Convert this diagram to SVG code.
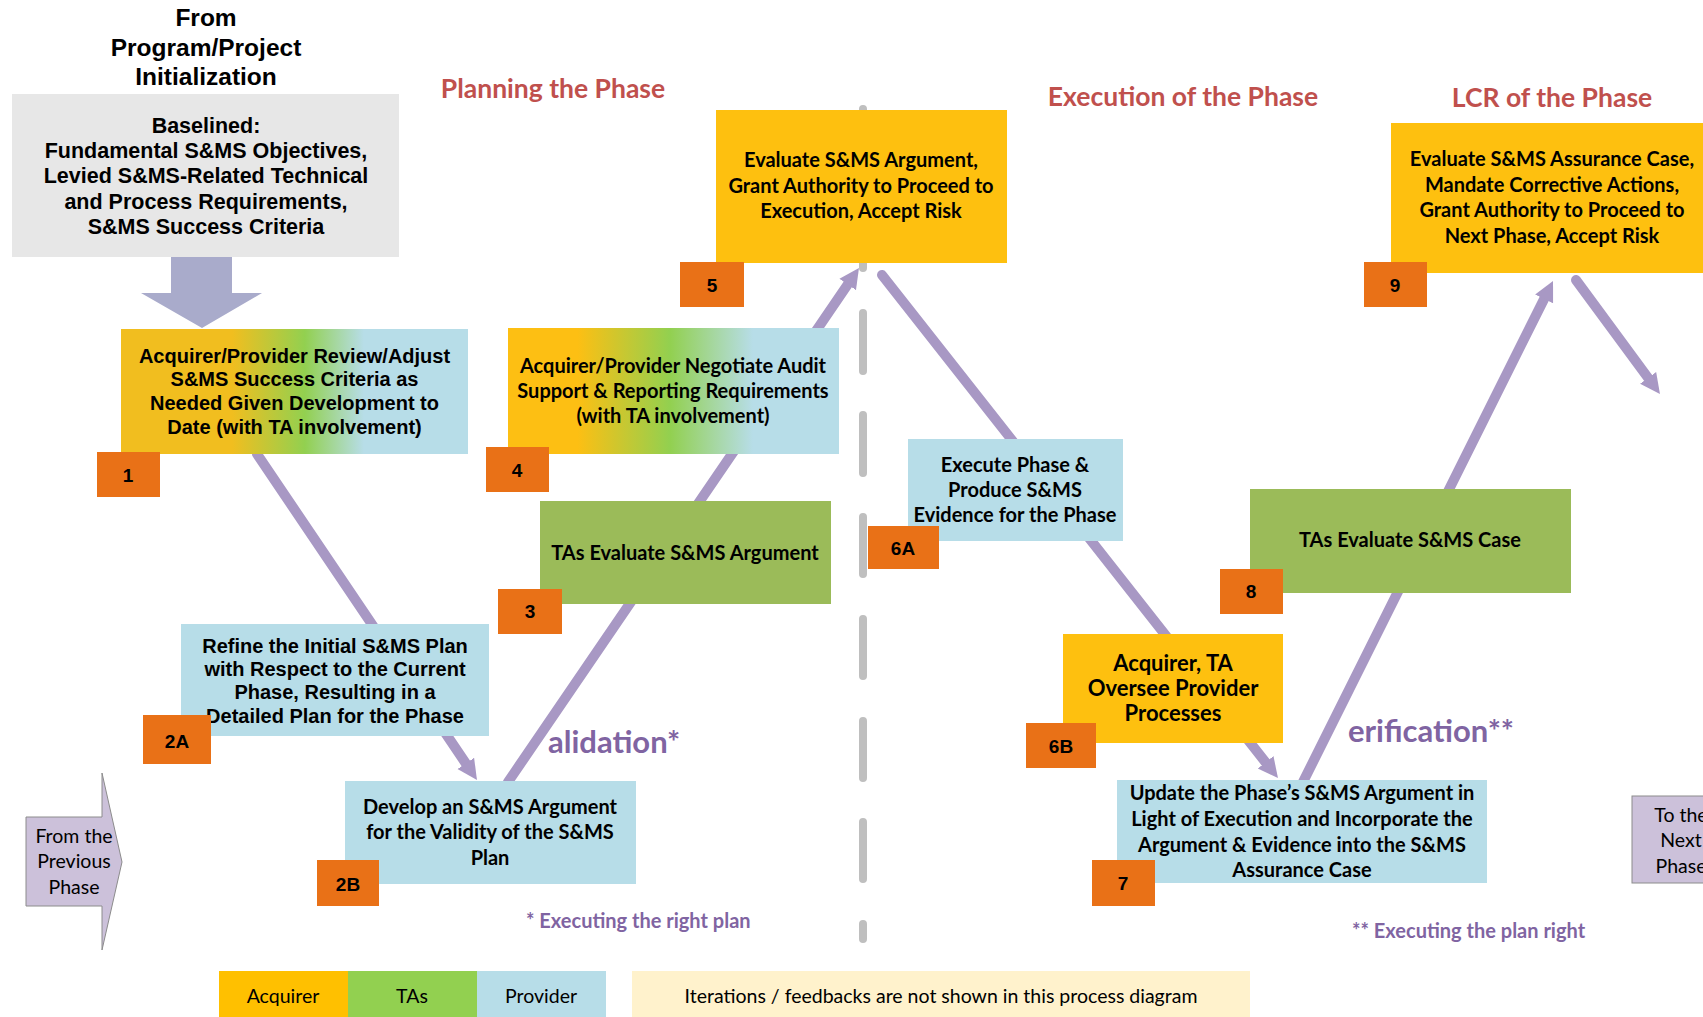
<svg xmlns="http://www.w3.org/2000/svg" width="1703" height="1017" viewBox="0 0 1703 1017">
<defs>
<style>
.ab{font-family:"Liberation Sans",Arial,sans-serif;font-weight:bold;fill:#000}
.cb{font-family:Lato,"Open Sans",sans-serif;font-weight:bold;fill:#000}
.cr{font-family:Lato,"Open Sans",sans-serif;fill:#000}
.mid{text-anchor:middle}
.lbl{fill:#e97117}
.prov{fill:#b7dde8}
.acq{fill:#fec00f}
.tas{fill:#9bbb59}
.phase{font-family:Lato,"Open Sans",sans-serif;font-weight:bold;fill:#c0504d;font-size:26.5px}
.purp{font-family:Lato,"Open Sans",sans-serif;font-weight:bold;fill:#8064a2}
.conn{stroke:#a898c4;stroke-width:10;fill:none;stroke-linecap:round}
</style>
<linearGradient id="g1" x1="0" y1="0" x2="1" y2="0">
<stop offset="0" stop-color="#f1be1f"/><stop offset="0.32" stop-color="#f1be1f"/><stop offset="0.53" stop-color="#92d050"/><stop offset="0.70" stop-color="#b7dde8"/><stop offset="1" stop-color="#b7dde8"/>
</linearGradient>
<linearGradient id="g4" x1="0" y1="0" x2="1" y2="0">
<stop offset="0" stop-color="#fdbf13"/><stop offset="0.21" stop-color="#fdbf13"/><stop offset="0.49" stop-color="#92d050"/><stop offset="0.74" stop-color="#b7dde8"/><stop offset="1" stop-color="#b7dde8"/>
</linearGradient>
<marker id="ah" viewBox="0 0 10 10" refX="0" refY="5" markerWidth="2" markerHeight="2.4" markerUnits="strokeWidth" orient="auto">
<path d="M0,0 L10,5 L0,10 z" fill="#a898c4"/>
</marker>
</defs>
<rect x="0" y="0" width="1703" height="1017" fill="#fff"/>

<g id="divider">
<path d="M863,109 L863,268 M863,313 L863,371 M863,415 L863,473 M863,517 L863,574 M863,619 L863,676 M863,721 L863,778 M863,822 L863,879 M863,924 L863,939" stroke="#bfbfbf" stroke-width="8" stroke-linecap="round" fill="none"/>
</g>

<g id="init-arrow">
<path d="M171,257 L232,257 L232,293 L262,293 L202,328 L141,293 L171,293 Z" fill="#a9abcb"/>
</g>

<g id="connectors">
<line class="conn" x1="257" y1="454" x2="465.8" y2="763.4" marker-end="url(#ah)"/>
<line class="conn" x1="508" y1="782" x2="847.7" y2="284.5" marker-end="url(#ah)"/>
<line class="conn" x1="882" y1="275" x2="1265.6" y2="762.3" marker-end="url(#ah)"/>
<line class="conn" x1="1303" y1="782" x2="1544.1" y2="298.9" marker-end="url(#ah)"/>
<line class="conn" x1="1576" y1="280" x2="1648.1" y2="377.9" marker-end="url(#ah)"/>
</g>

<g id="title">
<text class="ab mid" font-size="24.5" x="206" y="26">From</text>
<text class="ab mid" font-size="24.5" x="206" y="56">Program/Project</text>
<text class="ab mid" font-size="24.5" x="206" y="85">Initialization</text>
</g>

<g id="baselined">
<rect x="12" y="94" width="387" height="163" fill="#e7e7e7"/>
<g class="ab mid" font-size="21.5">
<text x="206" y="133">Baselined:</text>
<text x="206" y="158">Fundamental S&amp;MS Objectives,</text>
<text x="206" y="183">Levied S&amp;MS-Related Technical</text>
<text x="206" y="209">and Process Requirements,</text>
<text x="206" y="234">S&amp;MS Success Criteria</text>
</g>
</g>

<g id="phase-titles">
<text class="phase mid" x="553" y="98">Planning the Phase</text>
<text class="phase mid" x="1183" y="106">Execution of the Phase</text>
<text class="phase mid" x="1552" y="107">LCR of the Phase</text>
</g>

<g id="node1">
<rect x="121" y="329" width="347" height="125" fill="url(#g1)"/>
<g class="ab mid" font-size="20">
<text x="294.5" y="363">Acquirer/Provider Review/Adjust</text>
<text x="294.5" y="386">S&amp;MS Success Criteria as</text>
<text x="294.5" y="410">Needed Given Development to</text>
<text x="294.5" y="434">Date (with TA involvement)</text>
</g>
<rect class="lbl" x="97" y="452" width="63" height="45"/>
<text class="ab mid" font-size="19" x="128" y="482">1</text>
</g>

<g id="node2A">
<rect class="prov" x="181" y="624" width="308" height="112"/>
<g class="ab mid" font-size="20">
<text x="335" y="653">Refine the Initial S&amp;MS Plan</text>
<text x="335" y="676">with Respect to the Current</text>
<text x="335" y="699">Phase, Resulting in a</text>
<text x="335" y="723">Detailed Plan for the Phase</text>
</g>
<rect class="lbl" x="143" y="715" width="68" height="49"/>
<text class="ab mid" font-size="19" x="177" y="748">2A</text>
</g>

<g id="node2B">
<rect class="prov" x="345" y="781" width="291" height="103"/>
<g class="cb mid" font-size="20">
<text x="490" y="814">Develop an S&amp;MS Argument</text>
<text x="490" y="839">for the Validity of the S&amp;MS</text>
<text x="490" y="865">Plan</text>
</g>
<rect class="lbl" x="317" y="860" width="62" height="46"/>
<text class="ab mid" font-size="19" x="348" y="891">2B</text>
</g>

<g id="node3">
<rect class="tas" x="540" y="501" width="291" height="103"/>
<text class="cb mid" font-size="20" x="685" y="560">TAs Evaluate S&amp;MS Argument</text>
<rect class="lbl" x="498" y="589" width="64" height="45"/>
<text class="ab mid" font-size="19" x="530" y="618">3</text>
</g>

<g id="node4">
<rect x="508" y="328" width="331" height="126" fill="url(#g4)"/>
<g class="cb mid" font-size="20">
<text x="673" y="373">Acquirer/Provider Negotiate Audit</text>
<text x="673" y="398">Support &amp; Reporting Requirements</text>
<text x="673" y="423">(with TA involvement)</text>
</g>
<rect class="lbl" x="486" y="447" width="63" height="45"/>
<text class="ab mid" font-size="19" x="517" y="477">4</text>
</g>

<g id="node5">
<rect class="acq" x="716" y="110" width="291" height="153"/>
<g class="cb mid" font-size="20">
<text x="861" y="167">Evaluate S&amp;MS Argument,</text>
<text x="861" y="193">Grant Authority to Proceed to</text>
<text x="861" y="218">Execution, Accept Risk</text>
</g>
<rect class="lbl" x="680" y="262" width="64" height="45"/>
<text class="ab mid" font-size="19" x="712" y="292">5</text>
</g>

<g id="node6A">
<rect class="prov" x="908" y="439" width="215" height="102"/>
<g class="cb mid" font-size="20">
<text x="1015" y="472">Execute Phase &amp;</text>
<text x="1015" y="497">Produce S&amp;MS</text>
<text x="1015" y="522">Evidence for the Phase</text>
</g>
<rect class="lbl" x="868" y="526" width="71" height="43"/>
<text class="ab mid" font-size="19" x="903" y="555">6A</text>
</g>

<g id="node6B">
<rect class="acq" x="1063" y="634" width="220" height="109"/>
<g class="cb mid" font-size="22">
<text x="1173" y="671">Acquirer, TA</text>
<text x="1173" y="696">Oversee Provider</text>
<text x="1173" y="721">Processes</text>
</g>
<rect class="lbl" x="1026" y="723" width="70" height="45"/>
<text class="ab mid" font-size="19" x="1061" y="753">6B</text>
</g>

<g id="node7">
<rect class="prov" x="1117" y="780" width="370" height="103"/>
<g class="cb mid" font-size="20">
<text x="1302" y="800">Update the Phase’s S&amp;MS Argument in</text>
<text x="1302" y="826">Light of Execution and Incorporate the</text>
<text x="1302" y="852">Argument &amp; Evidence into the S&amp;MS</text>
<text x="1302" y="877">Assurance Case</text>
</g>
<rect class="lbl" x="1092" y="860" width="63" height="46"/>
<text class="ab mid" font-size="19" x="1123" y="890">7</text>
</g>

<g id="node8">
<rect class="tas" x="1250" y="489" width="321" height="104"/>
<text class="cb mid" font-size="20" x="1410" y="547">TAs Evaluate S&amp;MS Case</text>
<rect class="lbl" x="1220" y="569" width="63" height="45"/>
<text class="ab mid" font-size="19" x="1251" y="598">8</text>
</g>

<g id="node9">
<rect class="acq" x="1391" y="123" width="330" height="150"/>
<g class="cb mid" font-size="20">
<text x="1552" y="166">Evaluate S&amp;MS Assurance Case,</text>
<text x="1552" y="192">Mandate Corrective Actions,</text>
<text x="1552" y="217">Grant Authority to Proceed to</text>
<text x="1552" y="243">Next Phase, Accept Risk</text>
</g>
<rect class="lbl" x="1364" y="262" width="63" height="45"/>
<text class="ab mid" font-size="19" x="1395" y="292">9</text>
</g>

<g id="from-previous">
<path d="M26,817 L102,817 L102,773 L122,862 L102,950 L102,906 L26,906 Z" fill="#ccc1da" stroke="#8c8c8c" stroke-width="1"/>
<g class="cr mid" font-size="19.5">
<text x="74" y="843">From the</text>
<text x="74" y="868">Previous</text>
<text x="74" y="894">Phase</text>
</g>
</g>

<g id="to-next">
<rect x="1632" y="796" width="90" height="87" fill="#ccc1da" stroke="#8c8c8c" stroke-width="1"/>
<g class="cr mid" font-size="19.5">
<text x="1681" y="822">To the</text>
<text x="1681" y="847">Next</text>
<text x="1681" y="873">Phase</text>
</g>
</g>

<g id="annotations">
<text class="purp" font-size="31" x="548" y="753">alidation*</text>
<text class="purp" font-size="31" x="1348" y="742">erification**</text>
<text class="purp" font-size="20" x="526" y="928">* Executing the right plan</text>
<text class="purp" font-size="20" x="1352" y="938">** Executing the plan right</text>
</g>

<g id="legend">
<rect x="219" y="971" width="129" height="46" fill="#ffc000"/>
<rect x="348" y="971" width="129" height="46" fill="#92d050"/>
<rect x="477" y="971" width="129" height="46" fill="#b7dde8"/>
<rect x="632" y="971" width="618" height="46" fill="#fff2cc"/>
<g class="cr mid" font-size="19.5">
<text x="283" y="1003">Acquirer</text>
<text x="412" y="1003">TAs</text>
<text x="541" y="1003">Provider</text>
<text x="941" y="1003">Iterations / feedbacks are not shown in this process diagram</text>
</g>
</g>
</svg>
